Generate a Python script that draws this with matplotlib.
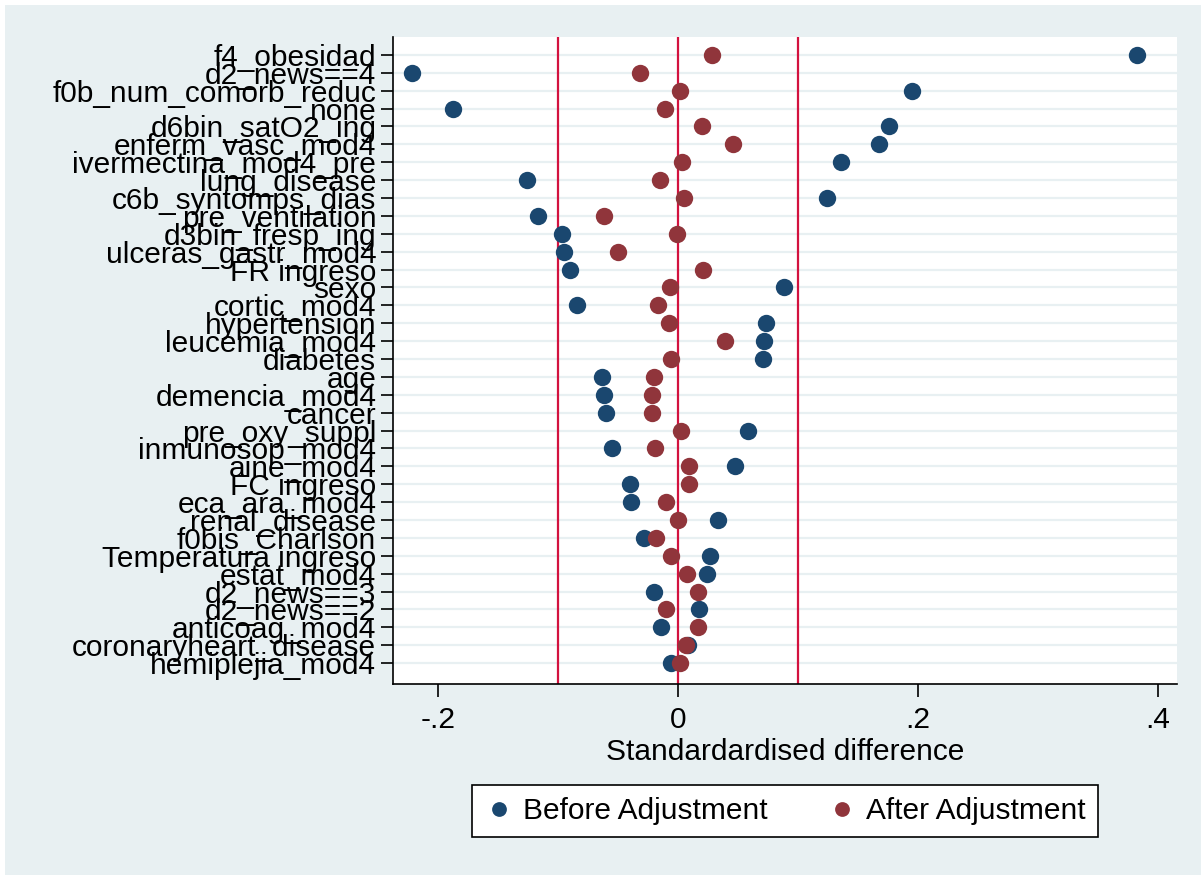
import numpy as np
import matplotlib
matplotlib.use('Agg')
from matplotlib import pyplot as plt
from matplotlib.patches import Rectangle

plt.rcParams['font.family'] = ['Liberation Sans', 'DejaVu Sans']

# variables, top to bottom
variables = ['f4_obesidad', 'd2_news==4', 'f0b_num_comorb_reduc', 'none',
             'd6bin_satO2_ing', 'enferm_vasc_mod4', 'ivermectina_mod4_pre',
             'lung_disease', 'c6b_syntomps_dias', 'pre_ventilation',
             'd3bin_fresp_ing', 'ulceras_gastr_mod4', 'FR ingreso', 'sexo',
             'cortic_mod4', 'hypertension', 'leucemia_mod4', 'diabetes', 'age',
             'demencia_mod4', 'cancer', 'pre_oxy_suppl', 'inmunosop_mod4',
             'aine_mod4', 'FC ingreso', 'eca_ara_mod4', 'renal_disease',
             'f0bis_Charlson', 'Temperatura ingreso', 'estat_mod4',
             'd2_news==3', 'd2_news==2', 'anticoag_mod4',
             'coronaryheart_disease', 'hemiplejia_mod4']

before = [0.383, -0.222, 0.195, -0.1875, 0.176, 0.1675, 0.136, -0.126, 0.124,
          -0.117, -0.097, -0.095, -0.090, 0.088, -0.084, 0.073, 0.072, 0.071,
          -0.063, -0.062, -0.060, 0.058, -0.055, 0.0475, -0.040, -0.039, 0.033,
          -0.028, 0.027, 0.024, -0.020, 0.0175, -0.014, 0.008, -0.006]

after = [0.028, -0.032, 0.002, -0.011, 0.020, 0.046, 0.003, -0.015, 0.005,
         -0.062, -0.001, -0.050, 0.021, -0.007, -0.017, -0.0075, 0.039, -0.006,
         -0.020, -0.0215, -0.0215, 0.0025, -0.019, 0.009, 0.009, -0.010, 0.000,
         -0.018, -0.006, 0.0075, 0.0165, -0.010, 0.0165, 0.007, 0.0015]

xticks = [-0.2, 0, 0.2, 0.4]
xtick_labels = ['-.2', '0', '.2', '.4']
ref_lines = [-0.1, 0, 0.1]

BG = '#E8F0F2'
NAVY = '#1A476F'
MAROON = '#90353B'
RED = '#D3123F'
FS = 21.5

fig = plt.figure(figsize=(12.01, 8.75), dpi=100, facecolor='white')
fig.patches.append(Rectangle((5 / 1201, 0), 1, 870 / 875, transform=fig.transFigure,
                             facecolor=BG, edgecolor='none', zorder=-10))

ax = fig.add_axes([393 / 1201, 1 - 684 / 875, (1177 - 393) / 1201, (684 - 37) / 875])
ax.set_facecolor('white')

n = len(variables)
ypos = np.arange(n, 0, -1)

for y in ypos:
    ax.axhline(y, color=BG, lw=1.6, zorder=1)
for x in ref_lines:
    ax.axvline(x, color=RED, lw=1.6, zorder=2)

ax.plot(before, ypos, 'o', color=NAVY, ms=12.5, mec='none', zorder=3,
        label='Before Adjustment')
ax.plot(after, ypos, 'o', color=MAROON, ms=12.5, mec='none', zorder=4,
        label='After Adjustment')

ax.set_xlim(-0.2375, 0.416)
ax.set_ylim(-0.17, n + 1.0)
ax.set_yticks(ypos)
ax.set_yticklabels(variables, fontsize=FS)
ax.set_xticks(xticks)
ax.set_xticklabels(xtick_labels, fontsize=FS)
ax.tick_params(axis='y', length=9, width=1.2, pad=3)
ax.tick_params(axis='x', length=9, width=1.2, pad=7)
ax.set_xlabel('Standardardised difference', fontsize=FS, labelpad=3)

for s in ['top', 'right']:
    ax.spines[s].set_visible(False)
for s in ['left', 'bottom']:
    ax.spines[s].set_linewidth(1.2)

leg = fig.legend(loc='center', bbox_to_anchor=(785 / 1201, 1 - 811 / 875), ncol=2,
                 fontsize=FS, frameon=True, fancybox=False, edgecolor='black',
                 framealpha=1, handletextpad=0.3, columnspacing=2.0,
                 markerscale=0.85, borderpad=0.4, handlelength=1.0)
leg.get_frame().set_linewidth(1.2)

plt.savefig('out.png', dpi=100, facecolor=fig.get_facecolor())
